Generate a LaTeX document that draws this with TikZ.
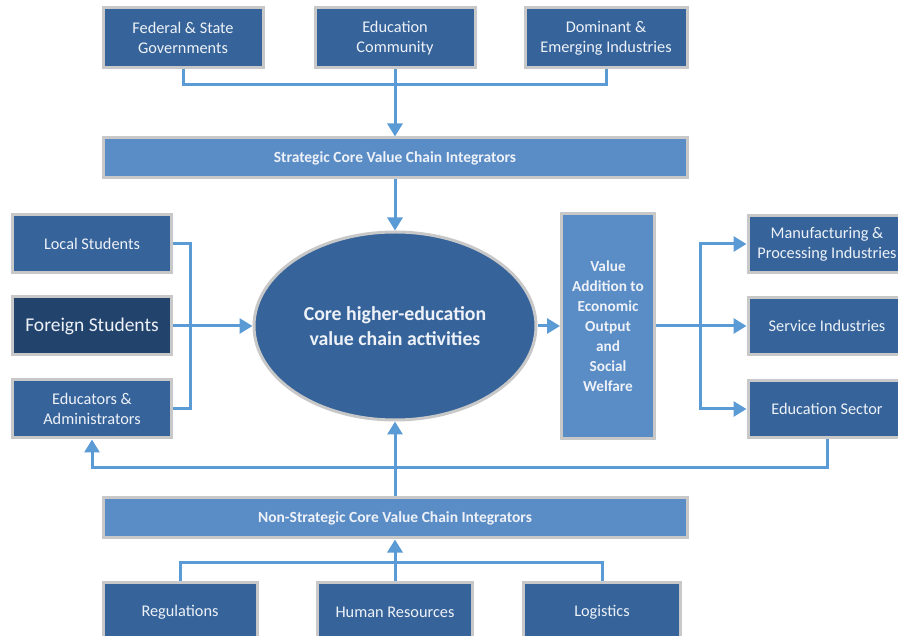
\documentclass[tikz,border=0pt]{standalone}
\usepackage{fontspec}
\setmainfont{Carlito}
\usetikzlibrary{arrows.meta,shapes.geometric}
\definecolor{boxblue}{HTML}{36649A}
\definecolor{darkblue}{HTML}{22446C}
\definecolor{lightblue}{HTML}{5A8CC6}
\definecolor{linkblue}{HTML}{5B9BD5}
\definecolor{rim}{HTML}{C8C8C8}
\definecolor{txt}{HTML}{EEF2F8}
\begin{document}
\begin{tikzpicture}[x=1pt,y=-1pt,
 boxstyle/.style={rectangle, draw=rim, line width=3pt, fill=boxblue, text=txt, align=center, inner sep=0pt, font=\fontsize{16.3}{20}\selectfont},
 barstyle/.style={boxstyle, fill=lightblue, font=\fontsize{15.5}{18}\selectfont\bfseries},
 link/.style={draw=linkblue, line width=3pt},
 arr/.style={link, -{Triangle[length=13pt,width=15pt]}}]
\useasboundingbox (0,0) rectangle (898,636);
\clip (0,0) rectangle (898,636);
% top
\node[boxstyle, minimum width=160pt, minimum height=60pt] (fed) at (183,38) {Federal \& State\\Governments};
\node[boxstyle, minimum width=160pt, minimum height=60pt] (educ) at (395,38) {Education\\Community};
\node[boxstyle, minimum width=162pt, minimum height=60pt] (dom) at (606,38) {Dominant \&\\Emerging Industries};
\node[barstyle, minimum width=584pt, minimum height=40pt] (strat) at (395,158) {Strategic Core Value Chain Integrators};
% core
\node[ellipse, draw=rim, line width=3pt, fill=boxblue, text=txt, align=center, inner sep=0pt, minimum width=282pt, minimum height=188pt, font=\fontsize{19.8}{25}\selectfont\bfseries] (core) at (395,326) {Core higher-education\\value chain activities};
% left
\node[boxstyle, minimum width=159pt, minimum height=58pt] (local) at (92,244) {Local Students};
\node[boxstyle, fill=darkblue, minimum width=159pt, minimum height=58pt, font=\fontsize{19.5}{22}\selectfont] (foreign) at (92,326) {Foreign Students};
\node[boxstyle, minimum width=159pt, minimum height=58pt] (educators) at (92,409) {Educators \&\\Administrators};
% value
\node[boxstyle, fill=lightblue, minimum width=93pt, minimum height=225pt, font=\fontsize{15.3}{20}\selectfont\bfseries] (value) at (608,326) {Value\\Addition to\\Economic\\Output\\and\\Social\\Welfare};
% right
\node[boxstyle, minimum width=158pt, minimum height=57pt] (manu) at (827,244) {Manufacturing \&\\Processing Industries};
\node[boxstyle, minimum width=158pt, minimum height=57pt] (serv) at (827,326) {Service Industries};
\node[boxstyle, minimum width=158pt, minimum height=57pt] (edsec) at (827,409) {Education Sector};
% bottom
\node[barstyle, minimum width=584pt, minimum height=40pt] (nonstrat) at (395,518) {Non-Strategic Core Value Chain Integrators};
\node[boxstyle, minimum width=154pt, minimum height=60pt] (reg) at (180,612) {Regulations};
\node[boxstyle, minimum width=155pt, minimum height=60pt] (hr) at (395,612) {Human Resources};
\node[boxstyle, minimum width=157pt, minimum height=60pt] (log) at (602,612) {Logistics};
% junctions
\coordinate (topj) at (395,85);
\coordinate (lj) at (190,326);
\coordinate (rj) at (700,326);
\coordinate (bj) at (395,468);
\coordinate (botj) at (395,562);
% connectors
\draw[link] (fed.south) |- (topj) -| (dom.south);
\draw[arr] (educ.south) -- (strat.north);
\draw[arr] (strat.south) -- (core.north);
\draw[link] (local.east) -| (lj) |- (educators.east);
\draw[arr] (foreign.east) -- (core.west);
\draw[arr] (core.east) -- (value.west);
\draw[arr] (value.east) -- (serv.west);
\draw[arr] (rj) |- (manu.west);
\draw[arr] (rj) |- (edsec.west);
\draw[arr] (edsec.south) |- (bj) -| (educators.south);
\draw[arr] (nonstrat.north) -- (core.south);
\draw[link] (reg.north) |- (botj) -| (log.north);
\draw[arr] (hr.north) -- (nonstrat.south);
\end{tikzpicture}
\end{document}
